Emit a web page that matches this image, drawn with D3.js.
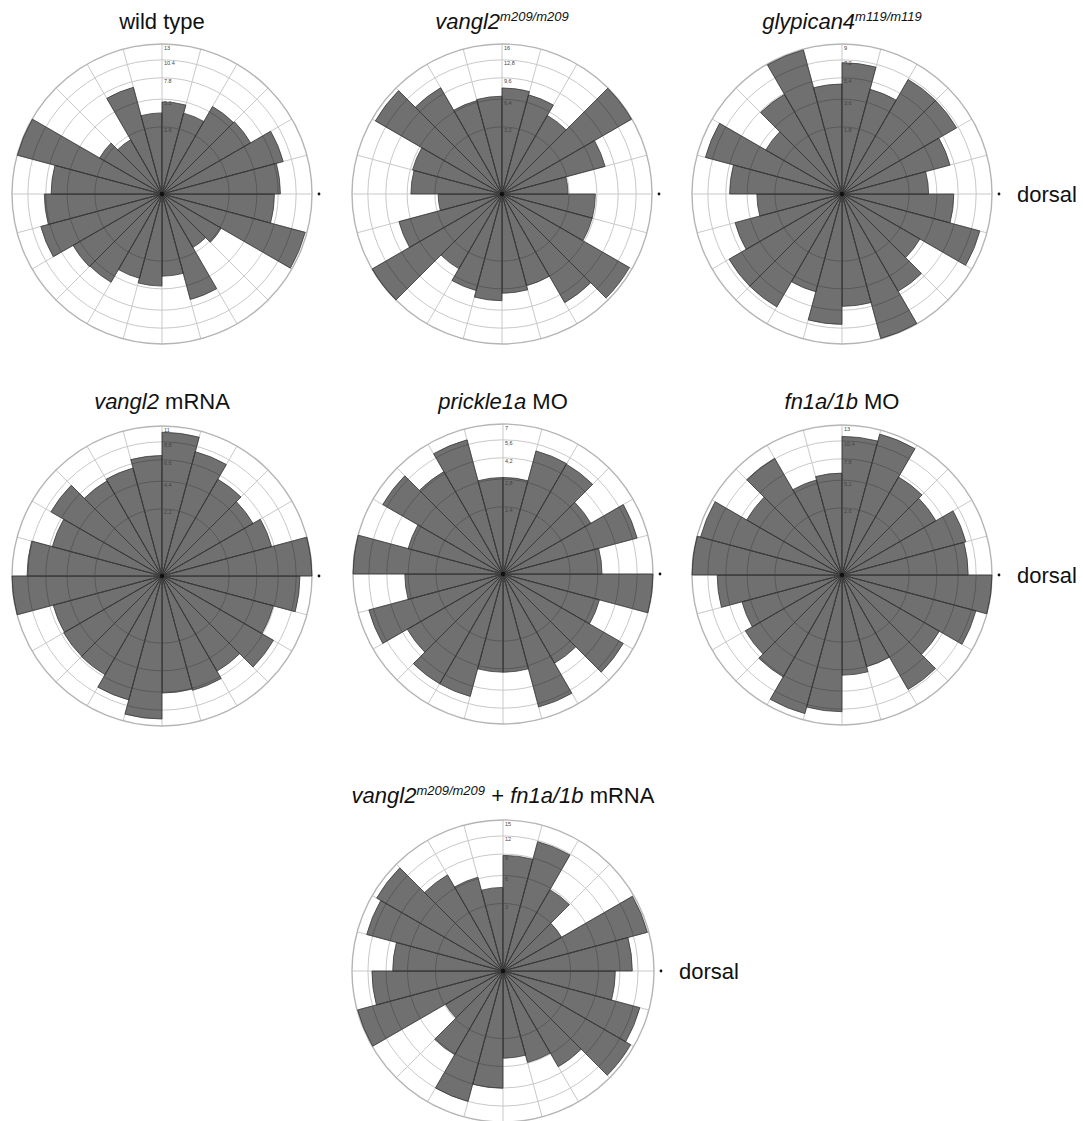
<!DOCTYPE html>
<html><head><meta charset="utf-8">
<script src="https://cdn.jsdelivr.net/npm/d3@7/dist/d3.min.js"></script>
<style>body{margin:0;background:#fff}svg{display:block}</style>
</head><body>
<svg id="fig" width="1083" height="1121"></svg>
<script>
// 24 sectors of 15 degrees, counted counter-clockwise from dorsal (right)
const sectorStarts = d3.range(0, 360, 15);

// bar values per sector (sector 0 = 0-15 deg, going counter-clockwise)
const wildType   = [8.1, 9.1, 6.05, 5.9, 4.05, 4.9, 3.8, 7.05, 2.27, 3.0, 12.95, 7.1, 8.0, 9.1, 6.1, 6.0, 4.4, 4.9, 3.9, 6.9, 2.2, 2.7, 12.7, 7.3];
const vangl2Mut  = [3.1, 8.1, 15.9, 5.85, 7.5, 8.0, 6.8, 6.65, 10.7, 15.2, 6.1, 5.9, 2.9, 8.1, 16.0, 5.3, 7.1, 8.1, 7.0, 6.4, 11.2, 15.4, 6.2, 6.2];
const glypicanMut= [3.0, 5.0, 7.0, 7.0, 4.7, 6.9, 4.84, 8.9, 5.3, 3.1, 8.0, 5.05, 2.9, 4.9, 6.8, 6.8, 4.1, 6.8, 5.05, 8.95, 5.05, 3.24, 8.15, 5.0];
const vangl2mRNA = [11.0, 6.3, 5.4, 6.1, 8.1, 10.1, 7.1, 6.1, 5.9, 8.05, 6.3, 8.9, 11.0, 6.2, 6.3, 6.35, 8.05, 10.0, 6.7, 6.85, 5.9, 8.1, 6.5, 9.3];
const prickleMO  = [3.05, 6.0, 3.2, 5.0, 5.05, 2.9, 2.9, 6.0, 4.35, 6.0, 3.0, 7.0, 3.0, 6.0, 3.8, 5.0, 5.0, 3.0, 3.0, 5.9, 3.3, 6.0, 3.1, 7.0];
const fn1aMO     = [9.2, 9.5, 6.8, 7.4, 12.3, 11.1, 6.0, 5.6, 10.5, 7.0, 12.4, 13.0, 9.0, 6.2, 7.2, 8.0, 11.9, 10.8, 5.8, 5.2, 10.1, 7.3, 11.1, 13.0];
const rescue     = [11.0, 14.7, 3.0, 5.8, 11.8, 8.8, 4.6, 6.2, 8.1, 14.0, 13.1, 8.0, 11.3, 14.9, 2.9, 6.15, 12.0, 9.05, 5.0, 5.9, 8.05, 14.3, 13.2, 8.3];

// radial maxima and ring tick labels
const maxima = [13, 16, 9, 11, 7, 13, 15];
const ticksWildType = ["2.6", "5.2", "7.8", "10.4", "13"];
const ticksVangl2   = ["3,2", "6,4", "9,6", "12,8", "16"];
const ticksGlypican = ["1,8", "3,6", "5,4", "7,2", "9"];
const ticksVmRNA    = ["2,2", "4,4", "6,6", "8,8", "11"];
const ticksPrickle  = ["1,4", "2,8", "4,2", "5,6", "7"];
const ticksFn1a     = ["2,6", "5,2", "7,8", "10,4", "13"];
const ticksRescue   = ["3", "6", "9", "12", "15"];

// titles: [text, italic, superscript]
const titleWT      = [["wild type", false, false]];
const titleVangl2  = [["vangl2", true, false], ["m209/m209", true, true]];
const titleGlyp    = [["glypican4", true, false], ["m119/m119", true, true]];
const titleVmRNA   = [["vangl2", true, false], [" mRNA", false, false]];
const titlePrickle = [["prickle1a", true, false], [" MO", false, false]];
const titleFn1a    = [["fn1a/1b", true, false], [" MO", false, false]];
const titleRescue  = [["vangl2", true, false], ["m209/m209", true, true], [" + ", false, false], ["fn1a/1b", true, false], [" mRNA", false, false]];

const panels = [
  {values: wildType,    max: maxima[0], ticks: ticksWildType, title: titleWT,      cx: 162, cy: 194, R: 150, ty: 29,  dorsal: false},
  {values: vangl2Mut,   max: maxima[1], ticks: ticksVangl2,   title: titleVangl2,  cx: 502, cy: 194, R: 150, ty: 29,  dorsal: false},
  {values: glypicanMut, max: maxima[2], ticks: ticksGlypican, title: titleGlyp,    cx: 842, cy: 194, R: 150, ty: 29,  dorsal: true},
  {values: vangl2mRNA,  max: maxima[3], ticks: ticksVmRNA,    title: titleVmRNA,   cx: 162, cy: 576, R: 150, ty: 409, dorsal: false},
  {values: prickleMO,   max: maxima[4], ticks: ticksPrickle,  title: titlePrickle, cx: 503, cy: 574, R: 150, ty: 409, dorsal: false},
  {values: fn1aMO,      max: maxima[5], ticks: ticksFn1a,     title: titleFn1a,    cx: 842, cy: 575, R: 150, ty: 409, dorsal: true},
  {values: rescue,      max: maxima[6], ticks: ticksRescue,   title: titleRescue,  cx: 503, cy: 971, R: 151, ty: 803, dorsal: true}
];

const svg = d3.select("#fig");
svg.append("rect").attr("width", 1083).attr("height", 1121).attr("fill", "#fff");
const font = "Liberation Sans, Arial, Helvetica, sans-serif";
const toRad = d => d * Math.PI / 180;

panels.forEach(p => {
  const g = svg.append("g").attr("transform", `translate(${p.cx},${p.cy})`);
  const r = d3.scaleSqrt().domain([0, p.max]).range([0, p.R]);
  const ringVals = d3.range(1, 6).map(k => p.max * k / 5);

  // grid rings
  g.selectAll("circle.ring").data(ringVals.slice(0, 4)).join("circle")
    .attr("r", d => r(d)).attr("fill", "none").attr("stroke", "#c9c9c9").attr("stroke-width", 1);
  // spokes
  g.selectAll("line.spoke").data(sectorStarts).join("line")
    .attr("x1", 0).attr("y1", 0)
    .attr("x2", d => p.R * Math.cos(toRad(d)))
    .attr("y2", d => -p.R * Math.sin(toRad(d)))
    .attr("stroke", "#c9c9c9").attr("stroke-width", 1);
  // outer circle
  g.append("circle").attr("r", r(p.max)).attr("fill", "none").attr("stroke", "#b5b5b5").attr("stroke-width", 1.4);

  // bars
  const arc = d3.arc()
    .innerRadius(0)
    .outerRadius(d => r(d.v))
    .startAngle(d => toRad(90 - d.a - 15))
    .endAngle(d => toRad(90 - d.a));
  g.selectAll("path.bar").data(p.values.map((v, i) => ({v, a: sectorStarts[i]}))).join("path")
    .attr("d", arc)
    .attr("fill", "#000").attr("fill-opacity", 0.56)
    .attr("stroke", "#3c3c3c").attr("stroke-width", 0.9).attr("stroke-opacity", 0.9);

  // tick labels along the upward axis
  g.selectAll("text.tick").data(ringVals).join("text")
    .attr("x", 2).attr("y", (d, i) => -r(d) + 5.5)
    .attr("font-family", font).attr("font-size", 5.5).attr("fill", "#444")
    .text((d, i) => p.ticks[i]);

  // centre dot
  g.append("circle").attr("r", 2.2).attr("fill", "#111");
  // dorsal marker
  g.append("circle").attr("cx", p.R + 7).attr("cy", 0).attr("r", 1.4).attr("fill", "#111");
  if (p.dorsal) {
    g.append("text").attr("x", p.R + 25).attr("y", 7.5)
      .attr("font-family", font).attr("font-size", 22).attr("fill", "#111").text("dorsal");
  }

  // title
  const t = svg.append("text").attr("x", p.cx).attr("y", p.ty)
    .attr("text-anchor", "middle").attr("font-family", font).attr("font-size", 22).attr("fill", "#111")
    .attr("xml:space", "preserve");
  let raised = false;
  p.title.forEach(([txt, it, sup]) => {
    const ts = t.append("tspan").text(txt).attr("font-style", it ? "italic" : "normal");
    if (sup) { ts.attr("font-size", 13).attr("dy", -8); raised = true; }
    else if (raised) { ts.attr("dy", 8); raised = false; }
  });
});
</script>
</body></html>
